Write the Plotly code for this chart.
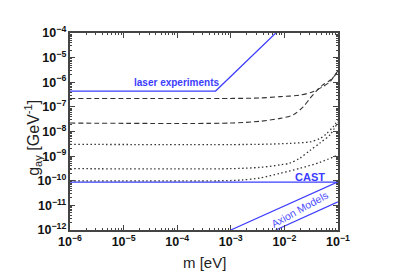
import plotly.graph_objects as go

# ---- data ----
laser_m = [1e-6, 5.2e-4, 6.9e-3]
laser_g = [4.4e-7, 4.4e-7, 1e-4]

cast_m = [1e-6, 0.1]
cast_g = [8.8e-11, 8.8e-11]

axion_hi_m = [1e-3, 0.1]
axion_hi_g = [1e-12, 9e-11]
axion_lo_m = [6.9e-3, 0.1]
axion_lo_g = [1e-12, 1.4e-11]

day11_m = [1e-6, 1e-3, 3.5e-3, 8.3e-3, 0.0195, 0.034, 0.052, 0.071, 0.087, 0.1]
day11_g = [2.2e-7, 2.2e-7, 2.3e-7, 2.6e-7, 3.0e-7, 4.1e-7, 6.6e-7, 1.05e-6, 1.95e-6, 2.9e-6]

day1010_m = [1e-6, 1e-3, 3.5e-3, 8.3e-3, 0.0145, 0.0224, 0.030, 0.041, 0.052, 0.071, 0.1]
day1010_g = [2.2e-8, 2.2e-8, 2.6e-8, 3.4e-8, 4.7e-8, 1.0e-7, 2.2e-7, 4.8e-7, 7.8e-7, 1.2e-6, 2.6e-6]

yr11_m = [1e-6, 3e-3, 0.0126, 0.030, 0.046, 0.060, 0.081, 0.1]
yr11_g = [3.0e-9, 3.0e-9, 3.3e-9, 3.8e-9, 5.2e-9, 7.9e-9, 1.55e-8, 2.9e-8]

yr1010_m = [1e-6, 1e-3, 3.5e-3, 8.3e-3, 0.0126, 0.0195, 0.030, 0.046, 0.071, 0.1]
yr1010_g = [3.1e-10, 3.1e-10, 3.5e-10, 4.4e-10, 5.2e-10, 8.3e-10, 1.7e-9, 3.4e-9, 7.4e-9, 2.4e-8]

yr3030_m = [1e-6, 6e-4, 1.6e-3, 3.5e-3, 8.3e-3, 0.0195, 0.046, 0.1]
yr3030_g = [1.0e-10, 1.0e-10, 1.07e-10, 1.3e-10, 2.0e-10, 3.2e-10, 5.6e-10, 1.1e-9]

labels = ["1 + 1   (1 day)", "10 + 10 (1 day)", "1 + 1   (1 yr)", "10 + 10 (1 yr)", "30 + 30 (1 yr)"]
label_m = [2.2e-6, 1.75e-6, 2.2e-6, 1.75e-6, 1.75e-6]
label_g = [1.4e-7, 3.5e-8, 1.75e-9, 4.3e-10, 1.32e-10]

BLUE = "#3c3cff"
BLACK = "#333333"

fig = go.Figure()


def line(m, g, color, dash="solid", width=1.2, shape="linear"):
    fig.add_trace(go.Scatter(x=m, y=g, mode="lines",
                             line=dict(color=color, dash=dash, width=width, shape=shape, smoothing=0.8),
                             showlegend=False, hoverinfo="skip"))


line(laser_m, laser_g, BLUE)
line(cast_m, cast_g, BLUE, width=1.4)
line(axion_hi_m, axion_hi_g, BLUE)
line(axion_lo_m, axion_lo_g, BLUE)
line(day11_m, day11_g, BLACK, dash="5px,3px", width=1.1, shape="spline")
line(day1010_m, day1010_g, BLACK, dash="5px,3px", width=1.1, shape="spline")
line(yr11_m, yr11_g, BLACK, dash="1.5px,2.5px", width=1.3, shape="spline")
line(yr1010_m, yr1010_g, BLACK, dash="1.5px,2.5px", width=1.3, shape="spline")
line(yr3030_m, yr3030_g, BLACK, dash="1.5px,2.5px", width=1.3, shape="spline")

for t, m, g in zip(labels, label_m, label_g):
    fig.add_annotation(x=m, y=g, xref="x", yref="y", text=t, showarrow=False,
                       xanchor="left", yanchor="middle",
                       font=dict(family="Liberation Sans", size=8, color="#222"))

fig.add_annotation(x=-4.02, y=-6.03, xref="x", yref="y", text="<b>laser experiments</b>",
                   showarrow=False, font=dict(family="Liberation Sans", size=10, color=BLUE))
fig.add_annotation(x=-1.52, y=-9.83, xref="x", yref="y", text="<b>CAST</b>",
                   showarrow=False, font=dict(family="Liberation Sans", size=11, color=BLUE))
fig.add_annotation(x=-1.71, y=-11.15, xref="x", yref="y", text="Axion Models", textangle=-29,
                   showarrow=False, font=dict(family="Liberation Sans", size=10.5, color="#5050ff"))

fig.add_annotation(x=-0.185, y=0.47, xref="paper", yref="paper",
                   text="g<sub>aγ</sub> [GeV<sup>-1</sup>]", textangle=-90, showarrow=False,
                   font=dict(family="Liberation Sans", size=16, color="#222"))
fig.add_annotation(x=0.5, y=-0.165, xref="paper", yref="paper", yanchor="middle",
                   text="m [eV]", showarrow=False,
                   font=dict(family="Liberation Sans", size=15, color="#222"))

axis_common = dict(type="log", showgrid=False, zeroline=False, showline=True,
                   linecolor="#444", linewidth=1.5, mirror="allticks", automargin=False,
                   ticks="inside", ticklen=5, tickwidth=1, tickcolor="#444",
                   dtick=1, exponentformat="power",
                   tickfont=dict(family="Liberation Sans", size=10, color="#111", weight="bold"),
                   minor=dict(ticks="inside", ticklen=2.5, tickwidth=1, tickcolor="#444", dtick="D1"))

fig.update_xaxes(range=[-6, -1], **axis_common)
fig.update_yaxes(range=[-12, -4], **axis_common)

fig.update_layout(width=393, height=277, margin=dict(l=70, r=55, t=33, b=47, autoexpand=False),
                  plot_bgcolor="white", paper_bgcolor="white")

fig.write_html("out.html", config={"displayModeBar": False},
               post_script="document.body.style.margin='0';document.body.style.padding='0';")
